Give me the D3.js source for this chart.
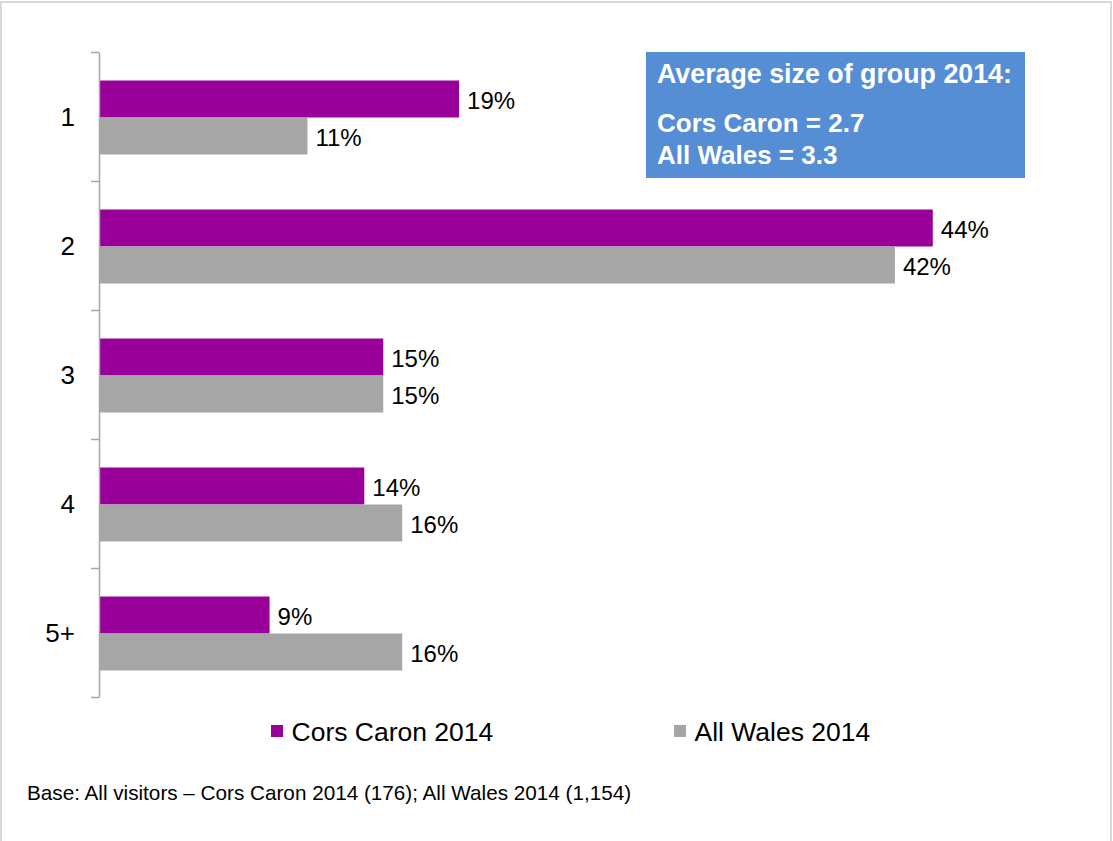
<!DOCTYPE html>
<html>
<head>
<meta charset="utf-8">
<script src="https://cdn.jsdelivr.net/npm/d3@7"></script>
<style>
  html, body { margin: 0; padding: 0; background: #ffffff; }
  svg { display: block; font-family: "Liberation Sans", Arial, sans-serif; }
</style>
</head>
<body>
<svg id="chart" width="1113" height="841"></svg>
<script>
// Group size categories and the share of visitors in each (percent)
const categories = ["1", "2", "3", "4", "5+"];
const seriesNames = ["Cors Caron 2014", "All Wales 2014"];
const corsCaron = [19, 44, 15, 14, 9];
const allWales = [11, 42, 15, 16, 16];
const seriesColors = ["#990099", "#a6a6a6"];
const infoLines = ["Average size of group 2014:", "Cors Caron = 2.7", "All Wales = 3.3"];
const footnote = "Base: All visitors \u2013 Cors Caron 2014 (176); All Wales 2014 (1,154)";

const svg = d3.select("#chart");

// Outer frame
svg.append("rect")
  .attr("x", 1).attr("y", 2).attr("width", 1110).attr("height", 850)
  .attr("fill", "none").attr("stroke", "#d9d9d9").attr("stroke-width", 2);

const plotTop = 52, plotBottom = 697, axisX = 99;

const x = d3.scaleLinear().domain([0, 50]).range([axisX, axisX + 947.5]);
const y0 = d3.scaleBand().domain(categories).range([plotTop, plotBottom]).padding(0);
const y1 = d3.scaleBand().domain(seriesNames).range([28.5, y0.bandwidth() - 26.5]).padding(0);

const rows = categories.map((c, i) => ({ cat: c, values: [corsCaron[i], allWales[i]] }));

// Bars
const groups = svg.append("g").selectAll("g")
  .data(rows).join("g")
  .attr("transform", d => `translate(0,${y0(d.cat)})`);

groups.selectAll("rect")
  .data(d => d.values.map((v, j) => ({ v, s: seriesNames[j], j })))
  .join("rect")
  .attr("x", x(0))
  .attr("y", d => y1(d.s))
  .attr("width", d => x(d.v) - x(0))
  .attr("height", y1.bandwidth())
  .attr("fill", d => seriesColors[d.j]);

// Value labels
groups.selectAll("text")
  .data(d => d.values.map((v, j) => ({ v, s: seriesNames[j] })))
  .join("text")
  .attr("x", d => x(d.v) + 8)
  .attr("y", d => y1(d.s) + y1.bandwidth() / 2)
  .attr("dy", "0.4em")
  .attr("font-size", 24)
  .attr("fill", "#000")
  .text(d => d.v + "%");

// Category axis: line with ticks at band boundaries
const tickScale = d3.scaleLinear().domain([0, categories.length]).range([plotTop, plotBottom]);
const axis = svg.append("g")
  .attr("transform", `translate(${axisX},0)`)
  .call(d3.axisLeft(tickScale).tickValues(d3.range(categories.length + 1)).tickFormat("").tickSize(8).tickSizeOuter(0));
axis.selectAll("line, path").attr("stroke", "#a6a6a6").attr("stroke-width", 1.5);

svg.append("g").selectAll("text")
  .data(categories).join("text")
  .attr("x", 75)
  .attr("y", d => y0(d) + y0.bandwidth() / 2)
  .attr("dy", "0.38em")
  .attr("text-anchor", "end")
  .attr("font-size", 26)
  .attr("fill", "#000")
  .text(d => d);

// Information box
svg.append("rect")
  .attr("x", 646).attr("y", 52).attr("width", 379).attr("height", 126)
  .attr("fill", "#558ed5");
svg.append("g").selectAll("text")
  .data(infoLines).join("text")
  .attr("x", 657)
  .attr("y", (d, i) => [83, 132, 164][i])
  .attr("font-size", (d, i) => i === 0 ? 26.8 : 26)
  .attr("font-weight", "bold")
  .attr("fill", "#ffffff")
  .text(d => d);

// Legend
const legendX = [271, 674];
const legend = svg.append("g").selectAll("g")
  .data(seriesNames).join("g")
  .attr("transform", (d, i) => `translate(${legendX[i]},725)`);
legend.append("rect")
  .attr("width", 12).attr("height", 12)
  .attr("fill", (d, i) => seriesColors[i]);
legend.append("text")
  .attr("x", 20.5).attr("y", 15.5)
  .attr("font-size", 26.5)
  .attr("fill", "#000")
  .text(d => d);

// Base note
svg.append("text")
  .attr("x", 27).attr("y", 800)
  .attr("font-size", 20.7)
  .attr("fill", "#000")
  .text(footnote);
</script>
</body>
</html>
